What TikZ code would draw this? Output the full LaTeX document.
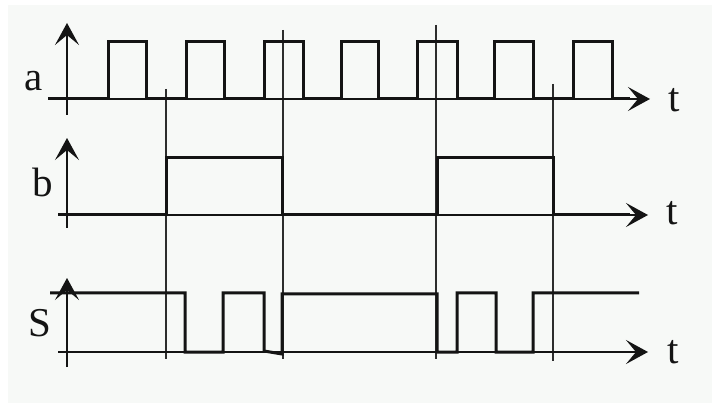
\documentclass[tikz,border=0pt]{standalone}
\usepackage{fontspec}
\setmainfont{Liberation Serif}
\usetikzlibrary{arrows.meta}
\definecolor{bgc}{RGB}{247,249,247}
\definecolor{ink}{RGB}{20,20,20}
\definecolor{gridc}{RGB}{45,45,45}
\begin{document}
\begin{tikzpicture}[x=1pt,y=-1pt,
  wave/.style={line width=3pt, ink, line join=miter},
  tip/.style={-{Stealth[length=22pt,width=24pt,inset=10pt]}},
  axisline/.style={line width=2.4pt, ink, tip},
  vaxis/.style={line width=1.8pt, ink, tip},
  gridline/.style={line width=1.1pt, gridc},
  lbl/.style={anchor=base, inner sep=0pt, text=ink, font=\fontsize{41}{48}\selectfont}]
\useasboundingbox (0,0) rectangle (712,403);
\fill[white] (0,0) rectangle (712,403);
\fill[bgc] (8,5) rectangle (712,403);

% named coordinates
\coordinate (aS) at (48,99);   \coordinate (aE) at (650,99);
\coordinate (aB) at (67,115);  \coordinate (aT) at (67,23);
\coordinate (bS) at (58,215);  \coordinate (bE) at (648,215);
\coordinate (bB) at (67,228);  \coordinate (bT) at (67,138);
\coordinate (sS) at (58,352);  \coordinate (sE) at (648,352);
\coordinate (sB) at (67,367);  \coordinate (sT) at (67,278);

% grid lines
\draw[gridline] (166,89) -- (166,359);
\draw[gridline] (283,30) -- (283,359);
\draw[gridline] (436,25) -- (436,359);
\draw[gridline] (553,84) -- (553,361);

% axes
\draw[vaxis] (aB) -- (aT);
\draw[axisline] (aS) -- (aE);
\draw[vaxis] (bB) -- (bT);
\draw[axisline] (bS) -- (bE);
\draw[vaxis] (sB) -- (sT);
\draw[axisline] (sS) -- (sE);

% waveform a
\draw[wave] (48,99) -- (108,99) -- (108,42) -- (146,42) -- (146,99)
  -- (186,99) -- (186,42) -- (224,42) -- (224,99)
  -- (264,99) -- (264,42) -- (303,42) -- (303,99)
  -- (341,99) -- (341,42) -- (378,42) -- (378,99)
  -- (417,99) -- (417,42) -- (457,42) -- (457,99)
  -- (494,99) -- (494,42) -- (533,42) -- (533,99)
  -- (573,99) -- (573,42) -- (612,42) -- (612,99) -- (630,99);

% waveform b
\draw[wave] (58,215) -- (166,215) -- (166,158) -- (282,158) -- (282,215)
  -- (437,215) -- (437,158) -- (553,158) -- (553,215) -- (630,215);

% waveform S
\draw[wave] (50,293) -- (185,293) -- (185,352) -- (223,352) -- (223,293)
  -- (264,293) -- (264,351) -- (282,354) -- (282,294) -- (437,294)
  -- (437,352) -- (457,352) -- (457,293) -- (496,293) -- (496,352)
  -- (533,352) -- (533,293) -- (639,293);

% labels
\node[lbl] (la) at (34,91) {a};
\node[lbl] (lb) at (43,197) {b};
\node[lbl] (ls) at (40,336) {S};
\node[lbl] (t1) at (674,112) {t};
\node[lbl] (t2) at (672,225) {t};
\node[lbl] (t3) at (673,363) {t};
\end{tikzpicture}
\end{document}
